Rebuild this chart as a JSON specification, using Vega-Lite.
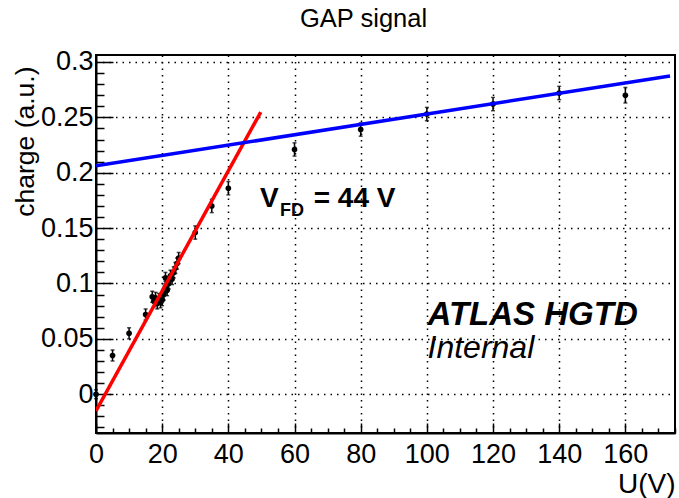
{
  "$schema": "https://vega.github.io/schema/vega-lite/v6.json",
  "width": 579,
  "height": 378,
  "autosize": {"type": "none"},
  "padding": {"left": 96, "top": 55, "right": 4, "bottom": 65},
  "background": "white",
  "config": {
    "font": "Liberation Sans",
    "view": {"stroke": "black", "strokeWidth": 2},
    "axis": {"labelFont": "Liberation Sans", "titleFont": "Liberation Sans", "labelColor": "black", "titleColor": "black", "domainColor": "black", "domainWidth": 2, "tickColor": "black", "tickWidth": 1.5, "gridColor": "black", "gridWidth": 1.5, "gridDash": [1.5, 5], "labelFontWeight": "normal", "titleFontWeight": "normal", "labelOverlap": false}
  },
  "title": {"text": "GAP signal", "font": "Liberation Sans", "fontSize": 25.5, "fontWeight": "normal", "color": "black", "anchor": "start", "frame": "group", "dx": 204, "dy": 13, "baseline": "alphabetic", "offset": 8},
  "datasets": {
    "points": [
      {"u": 0, "q": 0.000, "e": 0.004},
      {"u": 5, "q": 0.035, "e": 0.005},
      {"u": 10, "q": 0.055, "e": 0.005},
      {"u": 15, "q": 0.072, "e": 0.005},
      {"u": 17, "q": 0.088, "e": 0.005},
      {"u": 17.5, "q": 0.084, "e": 0.005},
      {"u": 18, "q": 0.087, "e": 0.005},
      {"u": 18.5, "q": 0.082, "e": 0.005},
      {"u": 19, "q": 0.086, "e": 0.005},
      {"u": 19.5, "q": 0.083, "e": 0.005},
      {"u": 20, "q": 0.085, "e": 0.005},
      {"u": 20.5, "q": 0.090, "e": 0.005},
      {"u": 21, "q": 0.097, "e": 0.005},
      {"u": 21, "q": 0.105, "e": 0.005},
      {"u": 21.5, "q": 0.094, "e": 0.005},
      {"u": 22, "q": 0.100, "e": 0.005},
      {"u": 22.5, "q": 0.107, "e": 0.005},
      {"u": 23, "q": 0.104, "e": 0.005},
      {"u": 23.5, "q": 0.110, "e": 0.005},
      {"u": 24, "q": 0.114, "e": 0.005},
      {"u": 24.5, "q": 0.118, "e": 0.005},
      {"u": 25, "q": 0.123, "e": 0.005},
      {"u": 30, "q": 0.146, "e": 0.006},
      {"u": 35, "q": 0.170, "e": 0.006},
      {"u": 40, "q": 0.186, "e": 0.006},
      {"u": 60, "q": 0.221, "e": 0.006},
      {"u": 80, "q": 0.239, "e": 0.006},
      {"u": 100, "q": 0.253, "e": 0.006},
      {"u": 120, "q": 0.262, "e": 0.006},
      {"u": 140, "q": 0.272, "e": 0.006},
      {"u": 160, "q": 0.270, "e": 0.007}
    ],
    "redfit": [{"u": 0, "q": -0.0151}, {"u": 49.8, "q": 0.2548}],
    "bluefit": [{"u": 0, "q": 0.2062}, {"u": 173.5, "q": 0.2874}]
  },
  "layer": [
    {
      "data": {"name": "points"},
      "mark": {"type": "point", "filled": true, "color": "black", "opacity": 1, "size": 32},
      "encoding": {
        "x": {
          "field": "u", "type": "quantitative", "title": "U(V)",
          "scale": {"domain": [0, 175], "nice": false, "zero": false},
          "axis": {
            "values": [0,5,10,15,20,25,30,35,40,45,50,55,60,65,70,75,80,85,90,95,100,105,110,115,120,125,130,135,140,145,150,155,160,165,170,175],
            "tickCount": 200,
            "tickSize": {"condition": {"test": "datum.value % 20 === 0", "value": -10}, "value": -5},
            "gridOpacity": {"condition": {"test": "datum.value % 20 === 0 && datum.value > 0", "value": 1}, "value": 0},
            "labelExpr": "datum.value % 20 === 0 ? format(datum.value, 'd') : ''",
            "labelFontSize": 27,
            "labelPadding": 18,
            "labelFlush": false,
            "labelOverlap": false,
            "titleFontSize": 28,
            "titleAlign": "right",
            "titleBaseline": "alphabetic",
            "titleX": 579,
            "titleY": 59
          }
        },
        "y": {
          "field": "q", "type": "quantitative", "title": "charge (a.u.)",
          "scale": {"domain": [-0.035, 0.3063], "nice": false, "zero": false},
          "axis": {
            "values": [-0.03,-0.02,-0.01,0,0.01,0.02,0.03,0.04,0.05,0.06,0.07,0.08,0.09,0.1,0.11,0.12,0.13,0.14,0.15,0.16,0.17,0.18,0.19,0.2,0.21,0.22,0.23,0.24,0.25,0.26,0.27,0.28,0.29,0.3],
            "tickCount": 200,
            "tickSize": {"condition": {"test": "indexof([0, 0.05, 0.1, 0.15, 0.2, 0.25, 0.3], datum.value) >= 0", "value": -17}, "value": -8},
            "gridOpacity": {"condition": {"test": "indexof([0, 0.05, 0.1, 0.15, 0.2, 0.25, 0.3], datum.value) >= 0", "value": 1}, "value": 0},
            "labelExpr": "indexof([0, 0.05, 0.1, 0.15, 0.2, 0.25, 0.3], datum.value) >= 0 ? format(datum.value, '~g') : ''",
            "labelFontSize": 27,
            "labelPadding": 20,
            "labelFlush": false,
            "labelOverlap": false,
            "titleFontSize": 26.5,
            "titleAngle": 270,
            "titleAlign": "right",
            "titleBaseline": "alphabetic",
            "titleX": -63,
            "titleY": 11
          }
        }
      }
    },
    {
      "data": {"name": "points"},
      "mark": {"type": "errorbar", "ticks": {"size": 4, "thickness": 1.5, "color": "black"}, "rule": {"strokeWidth": 1.5, "color": "black"}},
      "encoding": {
        "x": {"field": "u", "type": "quantitative", "title": "U(V)"},
        "y": {"field": "q", "type": "quantitative", "title": "charge (a.u.)"},
        "yError": {"field": "e"}
      }
    },
    {
      "data": {"name": "redfit"},
      "mark": {"type": "line", "color": "#ff0000", "strokeWidth": 3.5, "clip": true},
      "encoding": {
        "x": {"field": "u", "type": "quantitative", "title": "U(V)"},
        "y": {"field": "q", "type": "quantitative", "title": "charge (a.u.)"}
      }
    },
    {
      "data": {"name": "bluefit"},
      "mark": {"type": "line", "color": "#0000ff", "strokeWidth": 3.5, "clip": true},
      "encoding": {
        "x": {"field": "u", "type": "quantitative", "title": "U(V)"},
        "y": {"field": "q", "type": "quantitative", "title": "charge (a.u.)"}
      }
    },
    {
      "data": {"values": [{"t": "V"}]},
      "mark": {"type": "text", "font": "Liberation Sans", "fontWeight": "bold", "fontSize": 28, "align": "left", "baseline": "alphabetic", "color": "black"},
      "encoding": {"x": {"datum": 49.6}, "y": {"datum": 0.169}, "text": {"field": "t"}}
    },
    {
      "data": {"values": [{"t": "FD"}]},
      "mark": {"type": "text", "font": "Liberation Sans", "fontWeight": "bold", "fontSize": 18, "align": "left", "baseline": "alphabetic", "color": "black"},
      "encoding": {"x": {"datum": 55.6}, "y": {"datum": 0.1607}, "text": {"field": "t"}}
    },
    {
      "data": {"values": [{"t": "= 44 V"}]},
      "mark": {"type": "text", "font": "Liberation Sans", "fontWeight": "bold", "fontSize": 28, "align": "left", "baseline": "alphabetic", "color": "black"},
      "encoding": {"x": {"datum": 65.8}, "y": {"datum": 0.169}, "text": {"field": "t"}}
    },
    {
      "data": {"values": [{"t": "ATLAS HGTD"}]},
      "mark": {"type": "text", "font": "Liberation Sans", "fontWeight": "bold", "fontStyle": "italic", "fontSize": 33, "align": "left", "baseline": "alphabetic", "color": "black"},
      "encoding": {"x": {"datum": 100.2}, "y": {"datum": 0.0625}, "text": {"field": "t"}}
    },
    {
      "data": {"values": [{"t": "Internal"}]},
      "mark": {"type": "text", "font": "Liberation Sans", "fontStyle": "italic", "fontSize": 32, "align": "left", "baseline": "alphabetic", "color": "black"},
      "encoding": {"x": {"datum": 100.2}, "y": {"datum": 0.0328}, "text": {"field": "t"}}
    }
  ]
}
